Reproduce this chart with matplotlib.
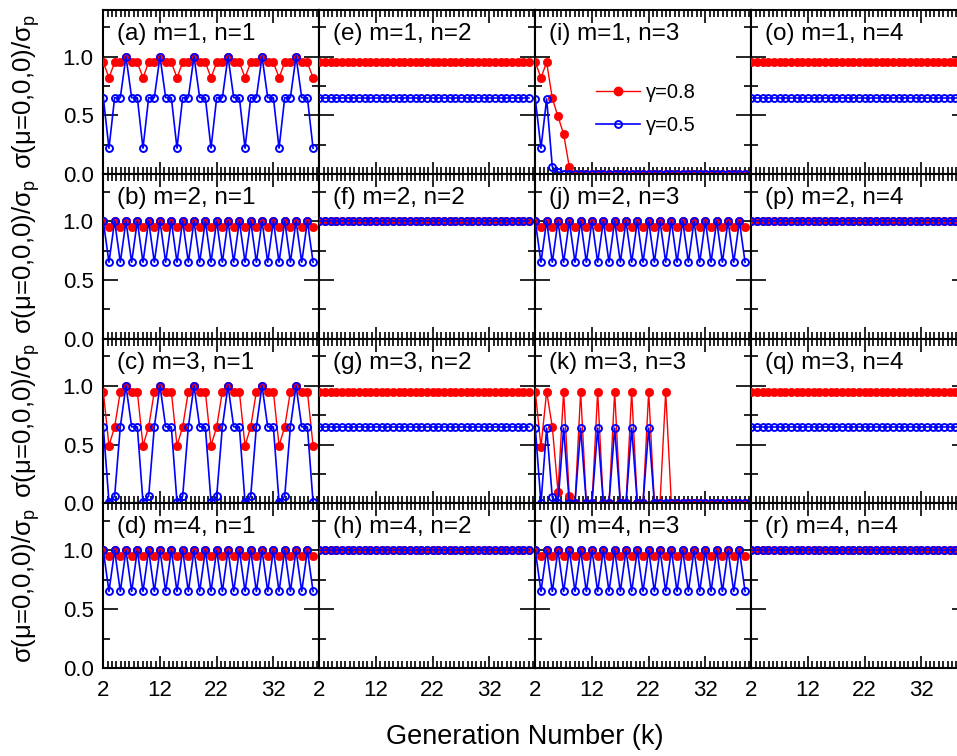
import matplotlib
matplotlib.use("Agg")
import matplotlib.pyplot as plt
from matplotlib.ticker import MultipleLocator, FixedLocator, AutoMinorLocator
from matplotlib.lines import Line2D

plt.rcParams['font.family'] = ['Liberation Sans', 'DejaVu Sans']
plt.rcParams['mathtext.fontset'] = 'custom'
plt.rcParams['mathtext.rm'] = 'Liberation Sans'
plt.rcParams['mathtext.it'] = 'Liberation Sans:italic'

# generation numbers k = 2..39
k = list(range(2, 40))

# (a) m=1, n=1
a_red = [0.95, 0.82, 0.95, 0.95, 1.0, 0.95] * 6 + [0.95, 0.82]
a_blue = [0.65, 0.22, 0.65, 0.65, 1.0, 0.65] * 6 + [0.65, 0.22]
# (b),(d),(j),(l) alternating
b_red = [1.0, 0.95] * 19
b_blue = [1.0, 0.65] * 19
# (c) m=3, n=1
c_red = [0.95, 0.49, 0.65, 0.95, 1.0, 0.95] * 6 + [0.95, 0.49]
c_blue = [0.65, 0.01, 0.06, 0.65, 1.0, 0.65] * 6 + [0.65, 0.01]
# (e),(g),(o),(q) constant
e_red = [0.95] * 38
e_blue = [0.645] * 38
# (f),(h),(p),(r) constant
f_red = [1.0] * 38
f_blue = [1.0] * 38
# (i) m=1, n=3
i_red = [0.95, 0.82, 0.95, 0.645, 0.49, 0.34, 0.06] + [0.0] * 31
i_blue = [0.64, 0.22, 0.64, 0.06, 0.02] + [0.0] * 33
# (k) m=3, n=3
k_red = [0.95, 0.48, 0.95, 0.65, 0.10, 0.95, 0.06, 0.0,
         0.95, 0.0, 0.0, 0.95, 0.0, 0.0, 0.95, 0.0, 0.0, 0.95,
         0.0, 0.0, 0.95, 0.0, 0.0, 0.95] + [0.0] * 14
k_blue = [0.64, 0.0, 0.64, 0.05, 0.0, 0.64, 0.0, 0.0,
          0.64, 0.0, 0.0, 0.64, 0.0, 0.0, 0.64, 0.0, 0.0, 0.64,
          0.0, 0.0, 0.64] + [0.0] * 17

panels = [
    [("(a) m=1, n=1", a_red, a_blue), ("(e) m=1, n=2", e_red, e_blue),
     ("(i) m=1, n=3", i_red, i_blue), ("(o) m=1, n=4", e_red, e_blue)],
    [("(b) m=2, n=1", b_red, b_blue), ("(f) m=2, n=2", f_red, f_blue),
     ("(j) m=2, n=3", b_red, b_blue), ("(p) m=2, n=4", f_red, f_blue)],
    [("(c) m=3, n=1", c_red, c_blue), ("(g) m=3, n=2", e_red, e_blue),
     ("(k) m=3, n=3", k_red, k_blue), ("(q) m=3, n=4", e_red, e_blue)],
    [("(d) m=4, n=1", b_red, b_blue), ("(h) m=4, n=2", f_red, f_blue),
     ("(l) m=4, n=3", b_red, b_blue), ("(r) m=4, n=4", f_red, f_blue)],
]

x_ticks = [2, 12, 22, 32]
y_ticks = [0.0, 0.5, 1.0]
y_ticklabels = ["0.0", "0.5", "1.0"]
legend_labels = ["γ=0.8", "γ=0.5"]

W, H = 957, 756
fig = plt.figure(figsize=(W / 100, H / 100), dpi=100)

left0, top0 = 103.3, 9.5
colw, rowh = 216.0, 164.6
RED, BLUE = '#ff0000', '#0000ff'

for r in range(4):
    for c in range(4):
        lab, red, blue = panels[r][c]
        x0 = left0 + c * colw
        y0 = top0 + (r + 1) * rowh
        ax = fig.add_axes([x0 / W, 1 - y0 / H, colw / W, rowh / H])
        ax.plot(k, red, '-', color=RED, lw=1.0, marker='o', ms=6.0,
                mfc=RED, mec=RED, mew=0.5, zorder=3)
        ax.plot(k, blue, '-', color=BLUE, lw=1.2, marker='o', ms=5.0,
                mfc='none', mec=BLUE, mew=1.4, zorder=4)
        ax.set_xlim(2, 40.1)
        ax.set_ylim(0, 1.4)
        ax.xaxis.set_major_locator(FixedLocator(x_ticks))
        ax.xaxis.set_minor_locator(AutoMinorLocator(13))
        ax.yaxis.set_major_locator(FixedLocator(y_ticks))
        ax.yaxis.set_minor_locator(MultipleLocator(0.25))
        ax.tick_params(which='both', direction='in', top=True, right=True,
                       width=1.2, labelsize=16)
        ax.tick_params(axis='x', which='both', pad=9)
        ax.tick_params(axis='y', which='both', pad=7)
        ax.tick_params(which='major', length=11)
        ax.tick_params(which='minor', length=5)
        ax.tick_params(axis='x', which='major', length=9)
        for s in ax.spines.values():
            s.set_linewidth(1.5)
        if c == 0:
            ax.set_yticklabels(y_ticklabels)
        else:
            ax.set_yticklabels([])
        if r == 3:
            ax.set_xticklabels([str(t) for t in x_ticks])
        else:
            ax.set_xticklabels([])
        ax.text(0.063, 0.854, lab, transform=ax.transAxes, fontsize=17.5,
                ha='left', va='center')
        if r == 0 and c == 2:
            handles = [
                Line2D([], [], color=RED, lw=1.0, marker='o', ms=6.0,
                       mfc=RED, mec=RED),
                Line2D([], [], color=BLUE, lw=1.2, marker='o', ms=5.0,
                       mfc='none', mec=BLUE, mew=1.4),
            ]
            ax.legend(handles, legend_labels, loc='center left',
                      bbox_to_anchor=(0.28, 0.395), frameon=False,
                      fontsize=14.5, handlelength=2.2, handletextpad=0.3,
                      labelspacing=0.7, borderpad=0, borderaxespad=0)
    yc = top0 + (r + 0.5) * rowh
    fig.text(26 / W, 1 - yc / H, "σ(μ=0,0,0)/σ$_\\mathregular{p}$",
             rotation=90, ha='center', va='center', fontsize=18.5)

fig.text(525 / W, 1 - 737 / H, "Generation Number (k)", ha='center',
         va='center', fontsize=19.5)

fig.savefig("out.png", dpi=100)
